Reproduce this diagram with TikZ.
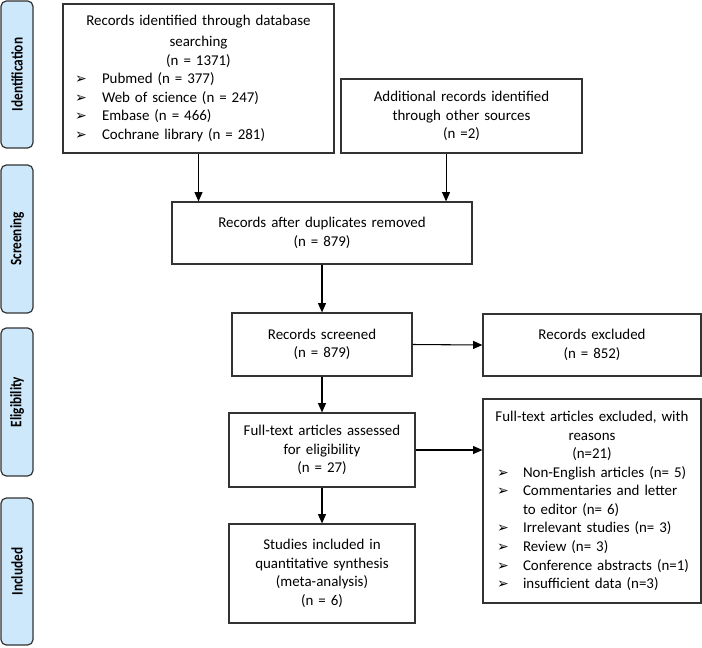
\documentclass[tikz,border=0pt]{standalone}
\usepackage{fontspec}
\setmainfont{Carlito}
\newfontfamily\dv{DejaVu Sans}
\usetikzlibrary{arrows.meta}
\definecolor{sidefill}{HTML}{CDE8FB}
\definecolor{edge}{HTML}{333333}
\newcommand{\bul}[3]{\hspace*{#1}\makebox[#2][l]{\dv\fontsize{10.5pt}{10pt}\selectfont ➢}#3}
\newcommand{\sidelabel}[1]{\scalebox{0.83}[1]{#1}}
\tikzset{
  box/.style={draw=edge, line width=0.9pt, rectangle, inner xsep=0pt, inner ysep=0pt,
    font=\fontsize{11.2pt}{13.9pt}\selectfont},
  side/.style={draw=edge, line width=0.9pt, fill=sidefill, rounded corners=4pt,
    minimum width=24pt, inner sep=0pt},
  sidetext/.style={rotate=90, font=\bfseries\fontsize{12pt}{14pt}\selectfont},
  arr/.style={draw=black, line width=0.8pt, -{Triangle[length=7pt,width=6pt]}}
}
\begin{document}
\begin{tikzpicture}[x=0.75pt, y=-0.75pt]
\useasboundingbox (0,0) rectangle (702,647);
% side labels
\node[side, minimum height=110.25pt] (sid) at (17,74.5) {};
\node[sidetext] (sidt) at (sid.center) {\sidelabel{Identification}};
\node[side, minimum height=111pt] (sscr) at (17,239) {};
\node[sidetext] (sscrt) at (sscr.center) {\sidelabel{Screening}};
\node[side, minimum height=111pt] (selig) at (17,402) {};
\node[sidetext] (seligt) at (selig.center) {\sidelabel{Eligibility}};
\node[side, minimum height=110.25pt] (sinc) at (17,571.5) {};
\node[sidetext] (sinct) at (sinc.center) {\sidelabel{Included}};
% boxes
\node[box, text width=203.25pt, minimum height=111.75pt] (tl) at (198.5,78.5)
  {\vspace*{2pt}{\centering Records identified through database\\ searching\\ (n = 1371)\par}
   \raggedright
   \bul{9pt}{20.25pt}{Pubmed (n = 377)}\\
   \bul{9pt}{20.25pt}{Web of science (n = 247)}\\
   \bul{9pt}{20.25pt}{Embase (n = 466)}\\
   \bul{9pt}{20.25pt}{Cochrane library (n = 281)}\par};
\node[box, text width=180.75pt, minimum height=55.5pt, align=center] (add) at (461.5,116)
  {Additional records identified\\ through other sources\\ (n =2)};
\node[box, text width=225pt, minimum height=46.5pt, align=center] (dup) at (322,233)
  {Records after duplicates removed\\ (n = 879)};
\node[box, text width=135pt, minimum height=47.25pt, align=center] (scr) at (322,344.5)
  {Records screened\\ (n = 879)};
\node[box, text width=163.5pt, minimum height=46.5pt, align=center] (exc) at (592,345)
  {Records excluded\\ (n = 852)};
\node[box, text width=139.5pt, minimum height=55.5pt, align=center] (ass) at (322,450)
  {Full-text articles assessed\\ for eligibility\\ (n = 27)};
\node[box, text width=139.5pt, minimum height=74.25pt, align=center] (stu) at (322,573.5)
  {Studies included in\\ quantitative synthesis\\ (meta-analysis)\\ (n = 6)};
\node[box, text width=163.5pt, minimum height=153pt] (rea) at (592,501)
  {{\centering Full-text articles excluded, with\\ reasons\\ (n=21)\par}
   \raggedright
   \bul{10.5pt}{19.5pt}{Non-English articles (n= 5)}\\
   \bul{10.5pt}{19.5pt}{Commentaries and letter}\\
   \hspace*{30pt}to editor (n= 6)\\
   \bul{10.5pt}{19.5pt}{Irrelevant studies (n= 3)}\\
   \bul{10.5pt}{19.5pt}{Review (n= 3)}\\
   \bul{10.5pt}{19.5pt}{Conference abstracts (n=1)}\\
   \bul{10.5pt}{19.5pt}{insufficient data (n=3)}\par};
% connectors
\draw[arr] (tl.south) -- (tl.south |- dup.north);
\draw[arr] ([xshift=-11.6pt]add.south) -- ([xshift=-11.6pt]add.south |- dup.north);
\draw[arr] (dup.south) -- (scr.north);
\draw[arr] (scr.east) -- (exc.west);
\draw[arr] (scr.south) -- (ass.north);
\draw[arr] (ass.east) -- (ass.east -| rea.west);
\draw[arr] (ass.south) -- (stu.north);
\end{tikzpicture}
\end{document}
